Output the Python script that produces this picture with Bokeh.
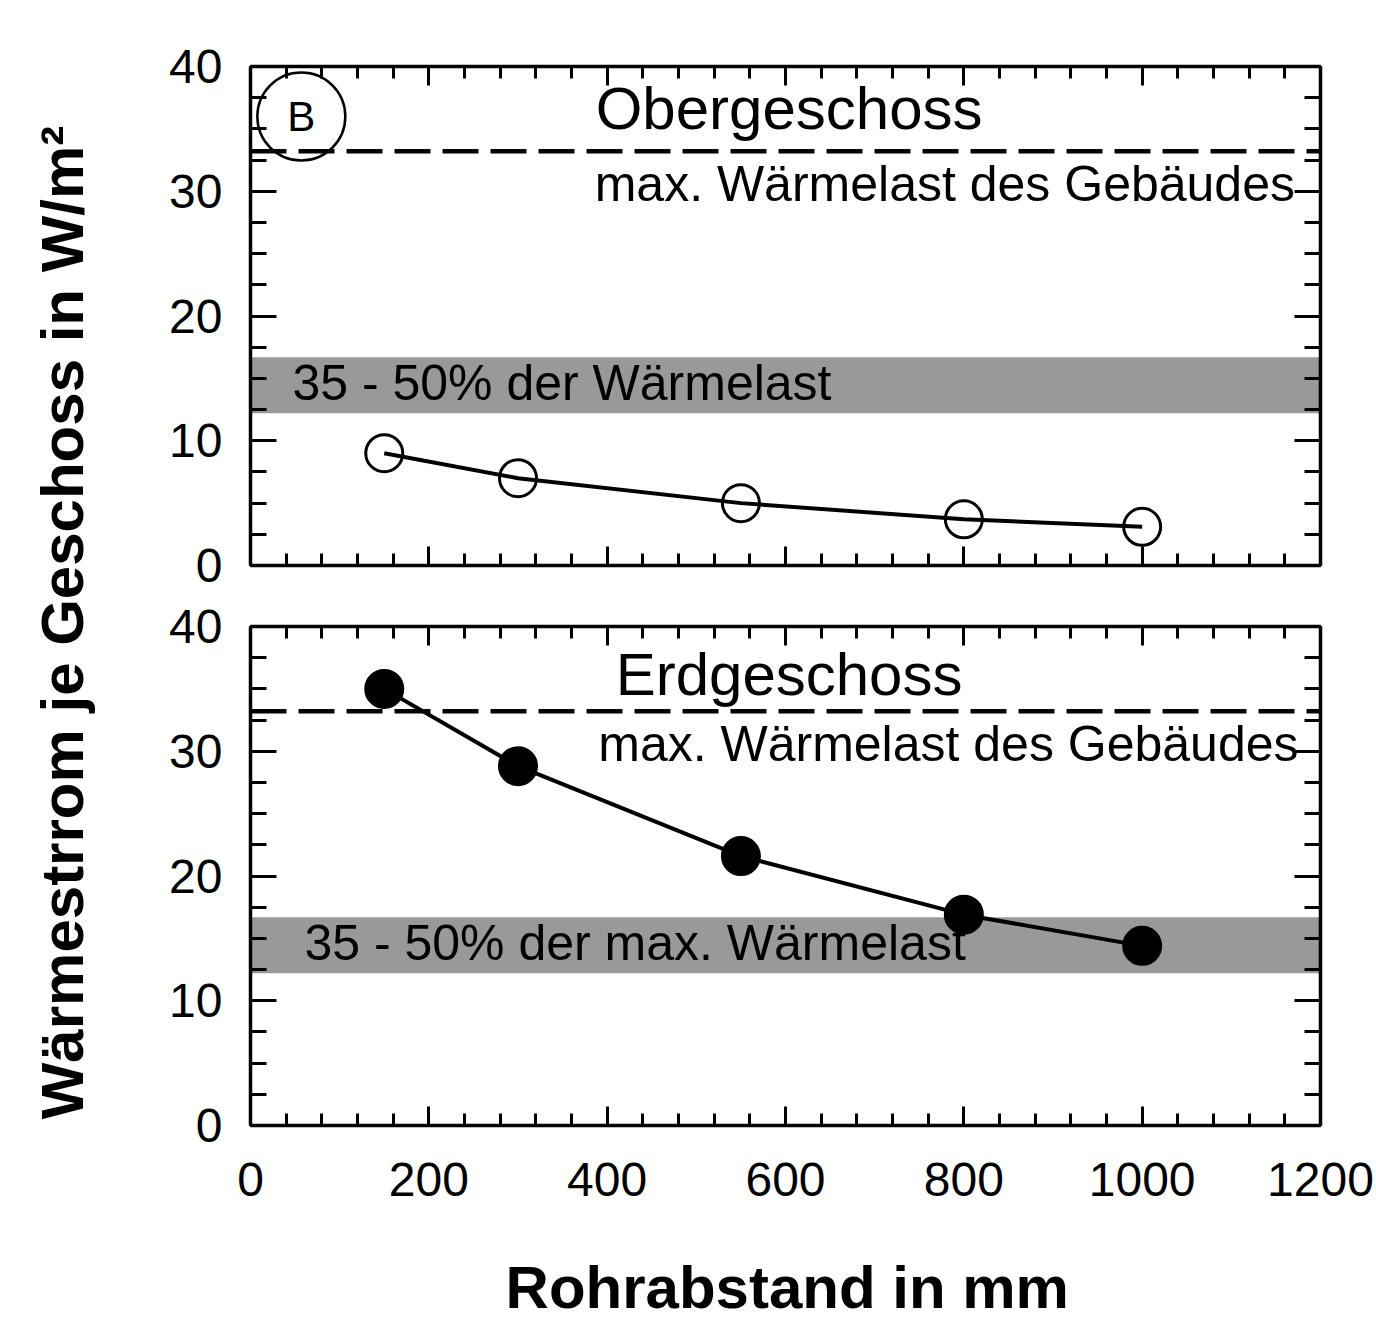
import numpy as np
from bokeh.plotting import figure
from bokeh.models import Range1d, LinearAxis, SingleIntervalTicker, BoxAnnotation, Span, Label
from bokeh.layouts import row, column
from bokeh.embed import file_html
from bokeh.resources import INLINE

# ---------------- data ----------------
rohrabstand = [150, 300, 550, 800, 1000]          # mm
obergeschoss = [9.0, 7.0, 5.0, 3.7, 3.1]          # W/m2
erdgeschoss = [35.0, 28.8, 21.6, 16.9, 14.4]      # W/m2
max_waermelast = 33.2                              # W/m2
band_low, band_high = 12.2, 16.7                   # 35 - 50 % of max load
x_limits = (0, 1200)
y_limits = (0, 40)
x_major, x_minor_n = 200, 5
y_major, y_minor_n = 10, 4

FONT = "Liberation Sans"
LBL = "48px"


def style_axis(ax, horizontal, show_labels):
    ax.ticker = SingleIntervalTicker(interval=x_major if horizontal else y_major,
                                     num_minor_ticks=x_minor_n if horizontal else y_minor_n)
    ax.axis_line_width = 3.5
    ax.axis_line_color = "black"
    ax.major_tick_out = 0
    ax.minor_tick_out = 0
    ax.major_tick_in = 19 if horizontal else 26
    ax.minor_tick_in = 12 if horizontal else 16
    ax.major_tick_line_width = 3
    ax.minor_tick_line_width = 3
    ax.major_tick_line_color = "black"
    ax.minor_tick_line_color = "black"
    ax.major_label_text_font = FONT
    if show_labels:
        ax.major_label_text_color = "black"
        ax.major_label_text_font_size = LBL
        ax.major_label_standoff = 37 if horizontal else 28
    else:
        ax.major_label_text_color = None
        ax.major_label_standoff = 0


def panel(height, left, right, top, bottom, ys, filled, title, title_y, mw_x, show_x_labels):
    p = figure(width=1248, height=height, x_range=Range1d(*x_limits), y_range=Range1d(*y_limits),
               toolbar_location=None, output_backend="svg",
               min_border_left=left, min_border_right=right,
               min_border_top=top, min_border_bottom=bottom)
    p.grid.grid_line_color = None
    p.outline_line_color = None
    p.background_fill_color = "white"
    p.border_fill_color = "white"
    p.add_layout(LinearAxis(), "above")
    p.add_layout(LinearAxis(), "right")
    for ax in p.below:
        style_axis(ax, True, show_x_labels)
    for ax in p.above:
        style_axis(ax, True, False)
    for ax in p.left:
        style_axis(ax, False, True)
    for ax in p.right:
        style_axis(ax, False, False)

    p.add_layout(BoxAnnotation(bottom=band_low, top=band_high, fill_color="#999999",
                               fill_alpha=1.0, line_color=None, level="underlay"))
    p.add_layout(Span(location=max_waermelast, dimension="width", line_color="black",
                      line_width=4.5, line_dash="36 12"))

    p.line(rohrabstand, ys, line_color="black", line_width=4)
    if filled:
        p.scatter(rohrabstand, ys, size=38, fill_color="black", line_color="black", line_width=2)
    else:
        p.scatter(rohrabstand, ys, size=37, fill_color=None, line_color="black", line_width=3)

    p.add_layout(Label(x=604, y=title_y, text=title, text_align="center", text_baseline="middle",
                       text_font=FONT, text_font_size="60px", text_color="black"))
    p.add_layout(Label(x=mw_x, y=30.6, text="max. Wärmelast des Gebäudes", text_align="left",
                       text_baseline="middle", text_font=FONT, text_font_size="50px",
                       text_color="black"))
    return p


top = panel(596, 122, 56, 66, 31, obergeschoss, False, "Obergeschoss", 36.6, 386, False)
top.add_layout(Label(x=47, y=14.6, text="35 - 50% der Wärmelast", text_align="left",
                     text_baseline="middle", text_font=FONT, text_font_size="50px",
                     text_color="black"))
top.scatter([57], [36.0], size=88, fill_color="white", line_color="black", line_width=2.5)
top.add_layout(Label(x=57, y=36.0, text="B", text_align="center", text_baseline="middle",
                     text_font=FONT, text_font_size="42px", text_color="black"))

bottom = panel(629, 122, 56, 30, 100, erdgeschoss, True, "Erdgeschoss", 36.15, 390, True)
bottom.add_layout(Label(x=60.5, y=14.6, text="35 - 50% der max. Wärmelast", text_align="left",
                        text_baseline="middle", text_font=FONT, text_font_size="50px",
                        text_color="black"))

# x-axis title in its own strip below the lower panel (same horizontal frame as the panels)
XH = 1322 - 596 - 629
xfig = figure(width=1248, height=XH, x_range=Range1d(*x_limits), y_range=Range1d(0, XH),
              toolbar_location=None, output_backend="svg",
              min_border_left=122, min_border_right=56, min_border_top=0, min_border_bottom=0,
              x_axis_location=None, y_axis_location=None)
xfig.grid.grid_line_color = None
xfig.outline_line_color = None
xfig.add_layout(Label(x=602, y=XH - 62, text="Rohrabstand in mm", text_align="center",
                      text_baseline="middle", text_font=FONT, text_font_style="bold",
                      text_font_size="60px", text_color="black"))

H = 1322
yfig = figure(width=128, height=H, x_range=Range1d(0, 128), y_range=Range1d(0, H),
              toolbar_location=None, output_backend="svg", min_border=0,
              x_axis_location=None, y_axis_location=None)
yfig.grid.grid_line_color = None
yfig.outline_line_color = None
yfig.add_layout(Label(x=62, y=H - 622, text="Wärmestrrom je Geschoss in W/m²", angle=np.pi / 2,
                      text_align="center", text_baseline="middle", text_font=FONT,
                      text_font_style="bold", text_font_size="60px", text_color="black"))

layout = row(yfig, column(top, bottom, xfig))
open("out.html", "w").write(file_html(layout, INLINE))
